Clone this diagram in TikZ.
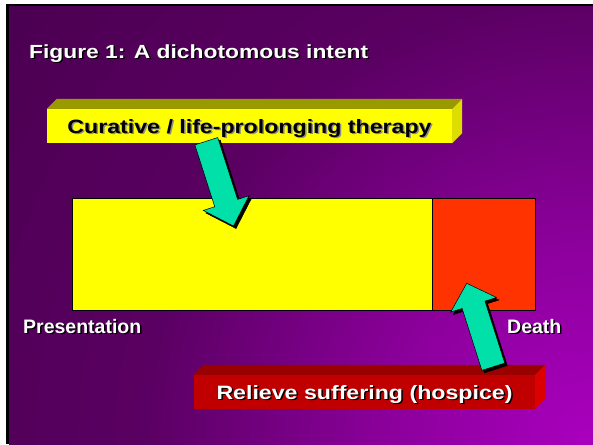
\documentclass[tikz,border=0pt]{standalone}
\usepackage{fontspec}
\usepackage{tikz}
\usetikzlibrary{positioning,calc}
\newfontfamily\slidefont{Liberation Sans}
\newfontfamily\slidewide{Liberation Sans}[FakeStretch=1.2]
\definecolor{SlideDark}{HTML}{4A0050}
\definecolor{SlideDim}{HTML}{5A0062}
\definecolor{SlideMid}{HTML}{8C009C}
\definecolor{SlideBright}{HTML}{AA00BE}
\definecolor{CureYellow}{HTML}{FFFF00}
\definecolor{CureTop}{HTML}{999900}
\definecolor{CureSide}{HTML}{DDDD00}
\definecolor{CareRed}{HTML}{C00000}
\definecolor{CareTop}{HTML}{990000}
\definecolor{CareSide}{HTML}{DD0000}
\definecolor{DeathRed}{HTML}{FF3300}
\definecolor{ArrowGreen}{HTML}{00E0A8}
\definecolor{TextShade}{HTML}{8C8C8C}

% glow from the lower right corner of the slide
\pgfdeclareradialshading{slideglow}{\pgfpointorigin}{color(0bp)=(SlideBright); color(5.6bp)=(SlideMid);
  color(12.5bp)=(SlideDim); color(20.8bp)=(SlideDark); color(50bp)=(SlideDark)}

% text with a small drop shadow
\newcommand{\shadowed}[2]{\makebox[0pt][l]{\kern1.5pt\raisebox{-1.5pt}{\textcolor{#1}{#2}}}#2}

% fat arrow from tail to tip, shadow first
\newcommand{\blockarrow}[2]{%
  \coordinate (neck) at ($(#1)!65pt!(#2)$);
  \foreach \sty in {arrowshade,arrowbody}
    \filldraw[\sty] ($(#1)!12pt!90:(#2)$) -- ($(neck)!12pt!90:(#2)$) -- ($(neck)!24pt!90:(#2)$) -- (#2)
      -- ($(neck)!24pt!-90:(#2)$) -- ($(neck)!12pt!-90:(#2)$) -- ($(#1)!12pt!-90:(#2)$) -- cycle;}

\tikzset{
  frontface/.style={inner sep=0pt, minimum height=34pt, text height=14pt, text depth=0pt,
    font={\slidewide\bfseries\fontsize{19.3pt}{22pt}\selectfont}},
  span/.style={draw=black, line width=0.6pt, outer sep=0pt, inner sep=0pt, minimum height=112pt},
  tagtext/.style={inner sep=0pt, anchor=base west, text=white,
    font={\slidefont\bfseries\fontsize{19.5pt}{22pt}\selectfont}},
  arrowbody/.style={fill=ArrowGreen, draw=black, line width=0.5pt},
  arrowshade/.style={fill=black, draw=black, line width=0.5pt, transform canvas={shift={(2.5pt,-2.5pt)}}},
}

\begin{document}
\begin{tikzpicture}[x=1pt,y=-1pt]
  \useasboundingbox (0,0) rectangle (593,444);
  % slide background
  \fill[white] (0,0) rectangle (593,444);
  \fill[black] (6,4) rectangle (593,444);
  \begin{scope}
    \clip (9,7) rectangle (593,444);
    \shade[shading=slideglow] (593,444) circle[radius=900pt];
  \end{scope}

  \node[inner sep=0pt, anchor=base west, text=white, font={\slidewide\bfseries\fontsize{19pt}{22pt}\selectfont}]
    (title) at (29,58) {\shadowed{black}{Figure 1: A dichotomous intent}};

  % upper bar
  \node[frontface, fill=CureYellow, minimum width=405pt] (cureBar) at (249.5,126)
    {\shadowed{TextShade}{Curative / life-prolonging therapy}};
  \fill[CureTop] (cureBar.north west) -- ++(10,-10) -- ([shift={(10,-10)}]cureBar.north east) -- (cureBar.north east) -- cycle;
  \fill[CureSide] (cureBar.north east) -- ++(10,-10) -- ([shift={(10,-10)}]cureBar.south east) -- (cureBar.south east) -- cycle;

  % course of illness
  \node[span, fill=CureYellow, minimum width=360pt] (lifeSpan) at (252,254) {};
  \node[span, fill=DeathRed, minimum width=103pt, right=0pt of lifeSpan] (lastSpan) {};
  \node[tagtext] (presentation) at (23,333) {\shadowed{black}{Presentation}};
  \node[tagtext] (death) at (507,333) {\shadowed{black}{Death}};

  % lower bar
  \node[frontface, fill=CareRed, text=white, minimum width=341pt] (careBar) at (364.5,392)
    {\shadowed{black}{Relieve suffering (hospice)}};
  \fill[CareTop] (careBar.north west) -- ++(10,-10) -- ([shift={(10,-10)}]careBar.north east) -- (careBar.north east) -- cycle;
  \fill[CareSide] (careBar.north east) -- ++(10,-10) -- ([shift={(10,-10)}]careBar.south east) -- (careBar.south east) -- cycle;

  % arrows
  \coordinate (cureTail) at (206.3,141.2);
  \coordinate (cureTip) at (233.5,226);
  \blockarrow{cureTail}{cureTip}
  \coordinate (careTail) at (493.3,366.7);
  \coordinate (careTip) at (466.7,283.3);
  \blockarrow{careTail}{careTip}
\end{tikzpicture}
\end{document}
